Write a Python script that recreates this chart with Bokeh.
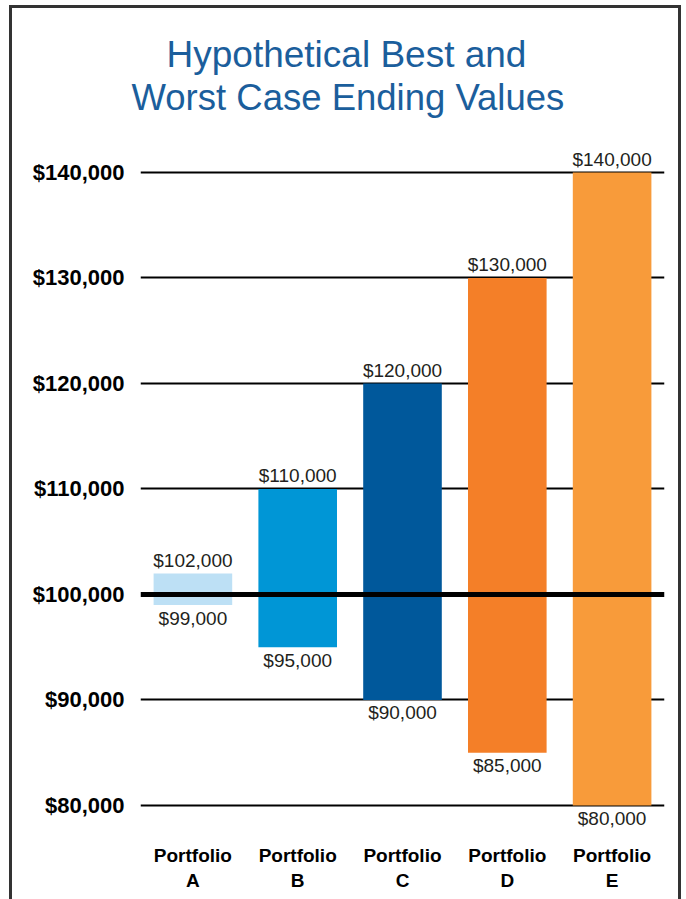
from bokeh.plotting import figure
from bokeh.models import (ColumnDataSource, FactorRange, Range1d, FixedTicker,
                          NumeralTickFormatter, Span, Title)
from bokeh.core.properties import value
from bokeh.embed import file_html
from bokeh.resources import INLINE

# ---- data ----
categories = ["Portfolio\nA", "Portfolio\nB", "Portfolio\nC", "Portfolio\nD", "Portfolio\nE"]
best_values = [102000, 110000, 120000, 130000, 140000]
worst_values = [99000, 95000, 90000, 85000, 80000]
bar_colors = ["#BDE0F5", "#0096D6", "#00589B", "#F47F28", "#F89B3A"]
y_ticks = [80000, 90000, 100000, 110000, 120000, 130000, 140000]
grid_ticks = [80000, 90000, 110000, 120000, 130000, 140000]
baseline_value = 100000
title_lines = ["Hypothetical Best and", "Worst Case Ending Values"]

FONT = "Liberation Sans"

src = ColumnDataSource(dict(
    cat=categories,
    best=best_values,
    worst=worst_values,
    color=bar_colors,
    best_label=[f"${v:,}" for v in best_values],
    worst_label=[f"${v:,}" for v in worst_values],
))

p = figure(
    width=686, height=899, title=None,
    x_range=FactorRange(*categories, range_padding=0),
    y_range=Range1d(76870, 145119),
    output_backend="svg", toolbar_location=None,
    min_border_left=140, min_border_right=22,
    min_border_top=118, min_border_bottom=61,
)
p.outline_line_color = None
p.background_fill_color = None
p.border_fill_color = None
p.styles = {
    "background-color": "white",
    "box-shadow": ("inset 9px 0 0 #ffffff, inset -5px 0 0 #ffffff, inset 0 5px 0 #ffffff, "
                   "inset 12px 0 0 #333333, inset -8px 0 0 #333333, inset 0 8px 0 #333333"),
}

# titles (added nearest-first)
for line, off, fs in [(title_lines[1], -9, "36.5px"), (title_lines[0], 26, "37px")]:
    p.add_layout(Title(text=line, align="left", offset=off, standoff=0,
                       vertical_align="middle", text_font=FONT,
                       text_font_style="normal", text_font_size=fs,
                       text_color="#1B5E9C"), "above")

# grid
p.xgrid.grid_line_color = None
p.ygrid.ticker = FixedTicker(ticks=grid_ticks)
p.ygrid.grid_line_color = "black"
p.ygrid.grid_line_width = 2

# bars
p.vbar(x="cat", top="best", bottom="worst", width=0.75, color="color",
       line_color=None, source=src)

# baseline
p.add_layout(Span(location=baseline_value, dimension="width",
                  line_color="black", line_width=5))

# value labels
p.text(x="cat", y="best", text="best_label", source=src,
       text_align="center", text_baseline="middle", y_offset=-13,
       text_font=value(FONT), text_font_size="19px", text_color="#231F20")
p.text(x="cat", y="worst", text="worst_label", source=src,
       text_align="center", text_baseline="middle", y_offset=13,
       text_font=value(FONT), text_font_size="19px", text_color="#231F20")

# y axis
yax = p.yaxis[0]
yax.ticker = FixedTicker(ticks=y_ticks)
yax.formatter = NumeralTickFormatter(format="$0,0")
yax.axis_line_color = None
yax.major_tick_line_color = None
yax.major_tick_out = 0
yax.major_tick_in = 0
yax.minor_tick_line_color = None
yax.major_label_standoff = 16
yax.major_label_text_font = FONT
yax.major_label_text_font_style = "bold"
yax.major_label_text_font_size = "22px"
yax.major_label_text_color = "black"

# x axis
xax = p.xaxis[0]
xax.axis_line_color = None
xax.major_tick_line_color = None
xax.major_tick_out = 0
xax.major_tick_in = 0
xax.minor_tick_line_color = None
xax.major_label_standoff = 6
xax.major_label_text_font = FONT
xax.major_label_text_font_style = "bold"
xax.major_label_text_font_size = "19px"
xax.major_label_text_line_height = 1.21
xax.major_label_text_color = "black"

open("out.html", "w").write(file_html(p, INLINE))
